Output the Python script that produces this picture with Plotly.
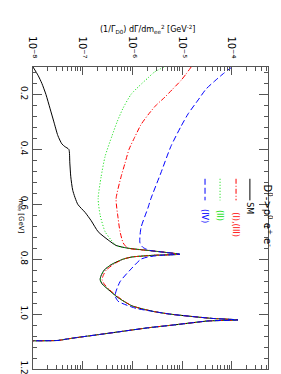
import plotly.graph_objects as go

# ---------------- data ----------------
m_sm = [0.10, 0.13, 0.16, 0.20, 0.25, 0.30, 0.35, 0.38, 0.39, 0.40, 0.45, 0.50,
        0.55, 0.60, 0.63, 0.66, 0.70, 0.73, 0.75, 0.76, 0.768, 0.775, 0.782,
        0.786, 0.792, 0.80, 0.82, 0.84, 0.86, 0.875, 0.89, 0.91, 0.94, 0.97,
        0.99, 1.00, 1.011, 1.016, 1.021, 1.025, 1.029, 1.04, 1.05, 1.06,
        1.075, 1.085, 1.092, 1.096, 1.097]
r_sm = [1.00e-8, 1.26e-8, 1.51e-8, 1.82e-8, 2.19e-8, 2.63e-8, 3.16e-8, 3.80e-8,
        4.37e-8, 5.25e-8, 5.50e-8, 5.75e-8, 6.31e-8, 7.94e-8, 1.12e-7, 1.48e-7,
        2.04e-7, 3.24e-7, 4.68e-7, 8.13e-7, 2.04e-6, 4.47e-6, 8.91e-6,
        2.57e-6, 9.77e-7, 6.46e-7, 3.72e-7, 2.69e-7, 2.34e-7, 2.24e-7, 2.45e-7,
        3.24e-7, 5.13e-7, 9.77e-7, 2.57e-6, 5.62e-6, 2.09e-5, 4.17e-5, 1.32e-4,
        3.31e-5, 2.09e-5, 6.46e-6, 2.04e-6, 8.13e-7, 2.04e-7, 7.94e-8, 4.37e-8,
        3.16e-8, 1.00e-9]

m_13 = [0.10, 0.125, 0.15, 0.18, 0.21, 0.24, 0.275, 0.31, 0.354, 0.40, 0.45,
        0.50, 0.58, 0.65, 0.70, 0.74, 0.75, 0.76, 0.768, 0.775, 0.782, 0.786,
        0.792, 0.80, 0.82, 0.84, 0.86, 0.875, 0.89, 0.91, 0.94, 0.97, 0.99,
        1.00, 1.011, 1.016, 1.021, 1.025, 1.029, 1.04, 1.05, 1.06, 1.075,
        1.085, 1.092, 1.096, 1.097]
r_13 = [1.51e-5, 1.20e-5, 9.33e-6, 6.46e-6, 4.47e-6, 2.95e-6, 2.04e-6, 1.48e-6,
        1.12e-6, 8.51e-7, 7.08e-7, 5.89e-7, 4.68e-7, 5.13e-7, 5.62e-7, 6.46e-7,
        7.08e-7, 8.13e-7, 2.04e-6, 4.47e-6, 8.91e-6, 2.57e-6, 9.77e-7, 6.46e-7,
        4.07e-7, 2.95e-7, 2.57e-7, 2.45e-7, 2.69e-7, 3.39e-7, 5.37e-7, 9.77e-7,
        2.57e-6, 5.62e-6, 2.09e-5, 4.17e-5, 1.32e-4, 3.31e-5, 2.09e-5, 6.46e-6,
        2.04e-6, 8.13e-7, 2.04e-7, 7.94e-8, 4.37e-8, 3.16e-8, 1.00e-9]

m_2 = [0.10, 0.12, 0.14, 0.17, 0.20, 0.25, 0.30, 0.35, 0.425, 0.50, 0.58, 0.64,
       0.70, 0.73, 0.75, 0.76, 0.768, 0.775, 0.782, 0.786, 0.792, 0.80, 0.82,
       0.84, 0.86, 0.875, 0.89, 0.91, 0.94, 0.97, 0.99, 1.00, 1.011, 1.016,
       1.021, 1.025, 1.029, 1.04, 1.05, 1.06, 1.075, 1.085, 1.092, 1.096, 1.097]
r_2 = [4.27e-6, 2.69e-6, 2.04e-6, 1.35e-6, 9.33e-7, 6.46e-7, 4.90e-7, 3.89e-7,
       2.82e-7, 2.34e-7, 2.04e-7, 2.24e-7, 2.82e-7, 3.72e-7, 4.68e-7, 8.13e-7,
       2.04e-6, 4.47e-6, 8.91e-6, 2.57e-6, 9.77e-7, 6.46e-7, 3.72e-7, 2.69e-7,
       2.34e-7, 2.24e-7, 2.45e-7, 3.24e-7, 5.13e-7, 9.77e-7, 2.57e-6, 5.62e-6,
       2.09e-5, 4.17e-5, 1.32e-4, 3.31e-5, 2.09e-5, 6.46e-6, 2.04e-6, 8.13e-7,
       2.04e-7, 7.94e-8, 4.37e-8, 3.16e-8, 1.00e-9]

m_4 = [0.10, 0.125, 0.15, 0.18, 0.22, 0.27, 0.318, 0.39, 0.486, 0.58, 0.614,
       0.686, 0.74, 0.757, 0.768, 0.775, 0.782, 0.786, 0.792, 0.80, 0.836,
       0.882, 0.932, 0.953, 0.979, 0.99, 1.00, 1.011, 1.016, 1.021, 1.025,
       1.029, 1.04, 1.05, 1.06, 1.075, 1.085, 1.092, 1.096, 1.097]
r_4 = [1.00e-4, 6.61e-5, 4.57e-5, 3.02e-5, 2.09e-5, 1.32e-5, 9.33e-6, 5.89e-6,
       3.72e-6, 2.34e-6, 2.04e-6, 1.48e-6, 1.41e-6, 1.62e-6, 2.24e-6, 4.47e-6,
       8.91e-6, 3.55e-6, 2.04e-6, 1.48e-6, 9.33e-7, 5.62e-7, 4.47e-7, 5.13e-7,
       1.17e-6, 2.57e-6, 5.62e-6, 2.09e-5, 4.17e-5, 1.32e-4, 3.31e-5, 2.09e-5,
       6.46e-6, 2.04e-6, 8.13e-7, 2.04e-7, 7.94e-8, 4.37e-8, 3.16e-8, 1.00e-9]

log_exponents = [-8, -7, -6, -5, -4]
log_tick_text = ["10⁻⁸", "10⁻⁷", "10⁻⁶", "10⁻⁵", "10⁻⁴"]
m_ticks = [0.2, 0.4, 0.6, 0.8, 1.0, 1.2]
m_tick_text = ["0.2", "0.4", "0.6", "0.8", "1.0", "1.2"]

log_ticks = [10.0 ** e for e in log_exponents]
log_minor = [k * 10.0 ** e for e in range(-8, -3) for k in range(2, 10)]

series = [
    ("SM", m_sm, r_sm, "black", "solid"),
    ("(I),(III)", m_13, r_13, "red", "5px,2px,1px,2px"),
    ("(II)", m_2, r_2, "#00dd00", "1px,2px"),
    ("(IV)", m_4, r_4, "blue", "6px,3px"),
]

FONT = "DejaVu Sans"
fig = go.Figure()
for name, m, r, col, dash in series:
    fig.add_trace(go.Scatter(x=r, y=m, mode="lines", name=name,
                             line=dict(color=col, width=1, dash=dash,
                                       shape="spline", smoothing=0.6),
                             showlegend=False))

axcol = "#555555"
fig.update_layout(
    width=281, height=374,
    margin=dict(l=25, r=21, t=59, b=7),
    paper_bgcolor="white", plot_bgcolor="white",
    font=dict(family=FONT, size=8, color="black"),
    xaxis=dict(type="log", range=[-8, -3.276], side="top",
               tickmode="array", tickvals=log_ticks, showticklabels=False,
               ticks="inside", ticklen=8, tickcolor=axcol, tickwidth=1,
               showline=True, linecolor=axcol, linewidth=1, mirror="allticks",
               showgrid=False, zeroline=False,
               minor=dict(tickvals=log_minor, ticks="inside", ticklen=4,
                          tickcolor=axcol, showgrid=False)),
    yaxis=dict(range=[1.2, 0.1], tickvals=m_ticks, ticktext=m_tick_text,
               tickangle=90, ticks="inside", ticklen=9, tickcolor=axcol,
               showline=True, linecolor=axcol, linewidth=1, mirror="allticks",
               showgrid=False, zeroline=False,
               minor=dict(tick0=0, dtick=0.04, ticks="inside", ticklen=4,
                          tickcolor=axcol, showgrid=False),
               tickfont=dict(size=9)),
)

ann = []
# rotated tick labels of the log axis (placed on the axis' own scale)
for e, t in zip(log_exponents, log_tick_text):
    ann.append(dict(text=t, textangle=90, x=e, xref="x", y=1.065, yref="paper",
                    xanchor="center", yanchor="middle", showarrow=False,
                    font=dict(size=10)))
ann.append(dict(text="(1/Γ<sub>D0</sub>) dΓ/dm<sub>ee</sub><sup>2</sup> [GeV<sup>-2</sup>]",
                x=0.489, y=1.149, xref="paper", yref="paper", showarrow=False,
                font=dict(size=8)))
ann.append(dict(text="m<sub>ee</sub> [GeV]", textangle=90, x=-0.077, y=0.506,
                xref="paper", yref="paper", showarrow=False, font=dict(size=7)))
ann.append(dict(text="D<sup>0</sup>->ρ<sup>0</sup> e<sup>+</sup> e<sup>-</sup>",
                textangle=90, x=1.038, y=1 - (211.5 - 59) / 308, xref="paper",
                yref="paper", yanchor="middle", showarrow=False,
                font=dict(size=10)))

shapes = []
leg_x = [0.923, 0.864, 0.796, 0.732]
leg_label_center = [203, 219.5, 210, 211]
for (name, m, r, col, dash), lx, lc in zip(series, leg_x, leg_label_center):
    shapes.append(dict(type="line", xref="paper", yref="paper", x0=lx, x1=lx,
                       y0=1 - (173 - 59) / 308, y1=1 - (195 - 59) / 308,
                       line=dict(color=col, width=1, dash=dash)))
    ann.append(dict(text=name, textangle=90, x=lx, y=1 - (lc - 59) / 308,
                    xref="paper", yref="paper", xanchor="center",
                    yanchor="middle", showarrow=False,
                    font=dict(size=8, color=col)))

fig.update_layout(annotations=ann, shapes=shapes)
fig.write_html("out.html")
